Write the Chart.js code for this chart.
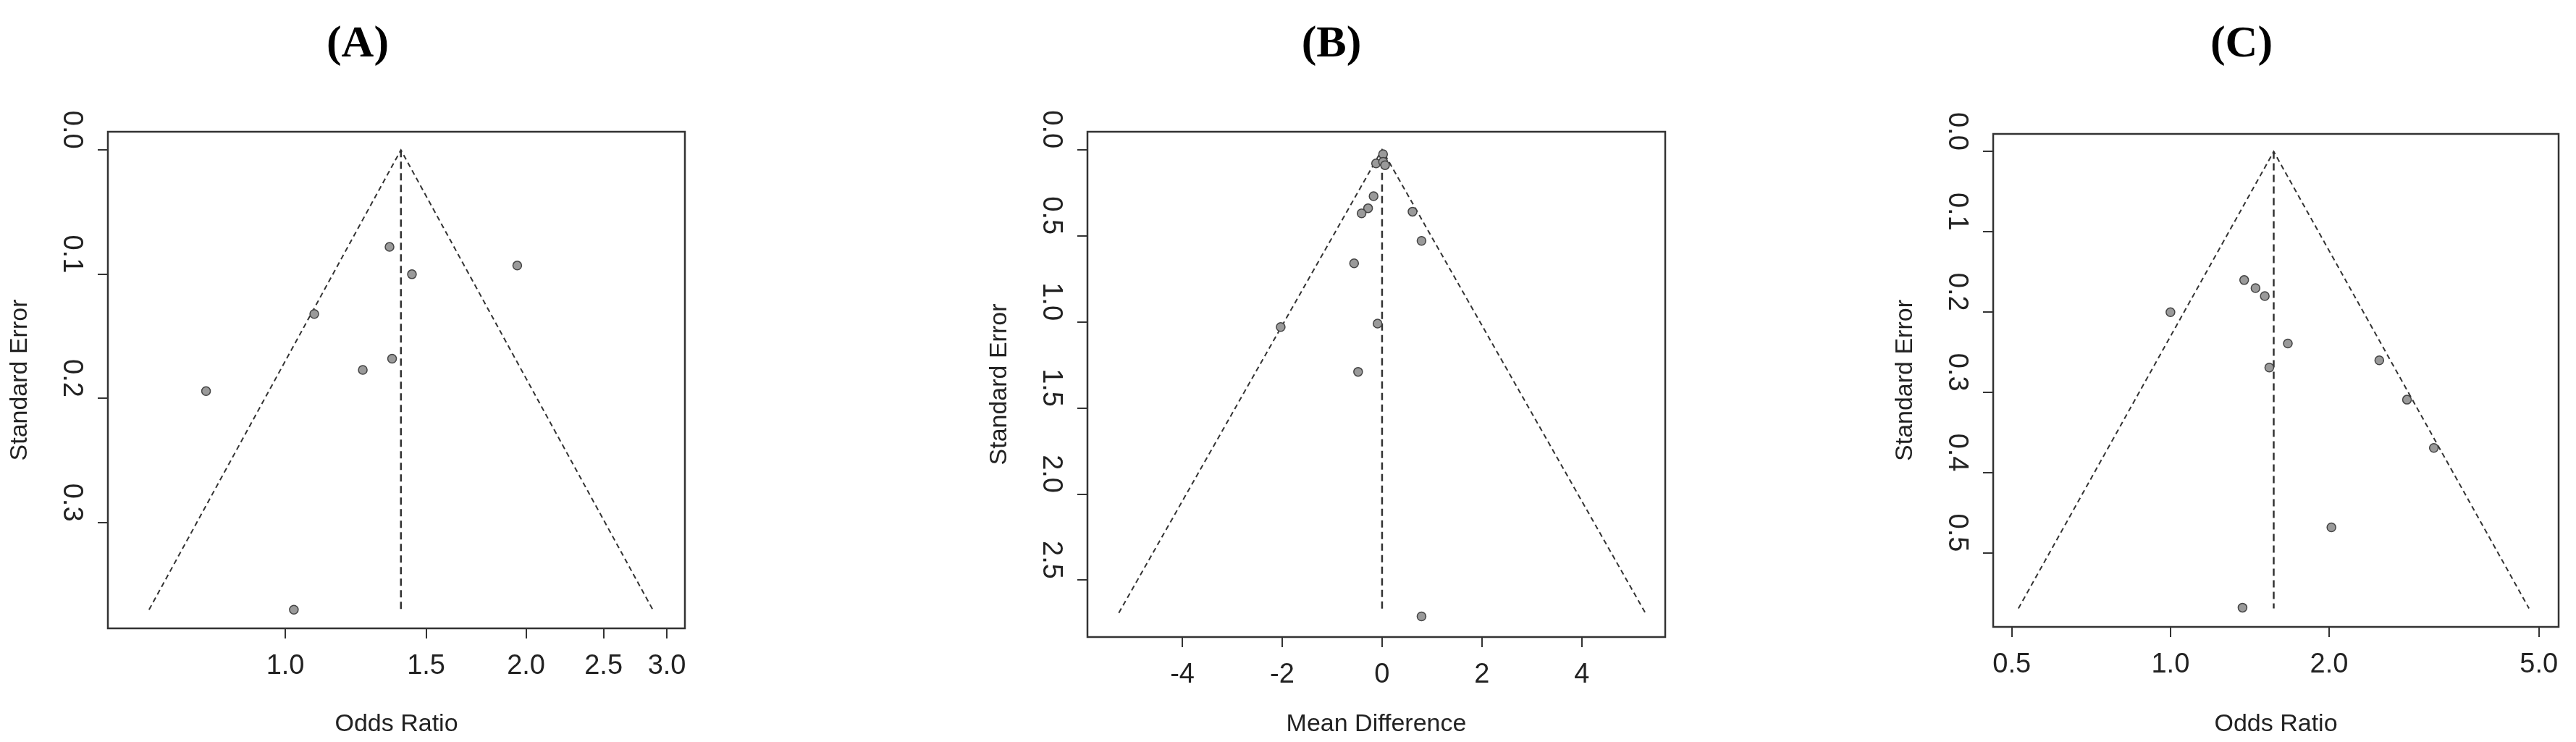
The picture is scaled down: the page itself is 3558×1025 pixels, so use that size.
<!DOCTYPE html>
<html><head><meta charset="utf-8">
<script src="https://cdn.jsdelivr.net/npm/chart.js@4/dist/chart.umd.min.js"></script>
<style>
body{margin:0;background:#fff;width:3558px;height:1025px;position:relative;overflow:hidden;font-family:"Liberation Sans",Arial,sans-serif}
.t{position:absolute;top:22px;font:bold 62px "Liberation Serif","Times New Roman",serif;color:#000;transform:translateX(-50%)}
.p{position:absolute;top:140px}
</style></head><body>
<div class="t" style="left:494px">(A)</div>
<div class="t" style="left:1839px">(B)</div>
<div class="t" style="left:3096px">(C)</div>
<div class="p" id="pa"><canvas id="ca"></canvas></div>
<div class="p" id="pb"><canvas id="cb"></canvas></div>
<div class="p" id="pc"><canvas id="cc"></canvas></div>
<script>
// Panel A (odds ratio vs standard error)
const aOR = [1.35, 1.44, 1.95, 1.087, 1.36, 1.25, 0.796, 1.025];
const aSE = [0.078, 0.100, 0.093, 0.132, 0.168, 0.177, 0.194, 0.370];
const aCenter = 1.395, aSEmax = 0.370;
const aXTicks = [1.0, 1.5, 2.0, 2.5, 3.0];
const aYTicks = [0, 0.1, 0.2, 0.3];
// Panel B (mean difference vs standard error)
const bMD = [0.02, -0.12, 0.02, 0.06, -0.17, -0.28, -0.41, 0.61, 0.79, -0.56, -2.03, -0.09, -0.48, 0.79];
const bSE = [0.026, 0.08, 0.07, 0.09, 0.27, 0.34, 0.37, 0.36, 0.53, 0.66, 1.03, 1.01, 1.29, 2.71];
const bCenter = 0, bSEmax = 2.69;
const bXTicks = [-4, -2, 0, 2, 4];
const bYTicks = [0, 0.5, 1.0, 1.5, 2.0, 2.5];
// Panel C (odds ratio vs standard error)
const cOR = [1.38, 1.45, 1.51, 1.00, 1.67, 1.54, 2.49, 2.81, 3.16, 2.02, 1.37];
const cSE = [0.160, 0.170, 0.180, 0.200, 0.239, 0.269, 0.260, 0.309, 0.369, 0.468, 0.568];
const cCenter = 1.57, cSEmax = 0.569;
const cXTicks = [0.5, 1.0, 2.0, 5.0];
const cYTicks = [0, 0.1, 0.2, 0.3, 0.4, 0.5];

const TXT = '#222';
const boxPlugin = {id:'box', afterDraw(ch){const a=ch.chartArea,c=ch.ctx;c.save();c.strokeStyle='#333';c.lineWidth=2.5;c.strokeRect(a.left,a.top,a.right-a.left,a.bottom-a.top);c.restore();}};

function funnel(center, seMax, log){
  const z = 1.96*seMax;
  if (log) return [{x:Math.exp(Math.log(center)-z),y:seMax},{x:center,y:0},{x:Math.exp(Math.log(center)+z),y:seMax}];
  return [{x:center-z,y:seMax},{x:center,y:0},{x:center+z,y:seMax}];
}

function panel(id, divId, o){
  const div = document.getElementById(divId);
  const left = o.boxL - 150, w = o.boxR - left + 30, h = 1025 - 140;
  div.style.left = left+'px'; div.style.width = w+'px'; div.style.height = h+'px';
  const pts = o.xs.map((x,i)=>({x:x,y:o.ys[i]}));
  new Chart(document.getElementById(id), {
    data:{datasets:[
      {type:'scatter',data:pts,pointRadius:6,pointBackgroundColor:'#9a9a9a',pointBorderColor:'#444',pointBorderWidth:1.5},
      {type:'line',data:funnel(o.center,o.seMax,o.log),borderColor:'#333',borderWidth:2,borderDash:[7,5],pointRadius:0,fill:false,tension:0},
      {type:'line',data:[{x:o.center,y:0},{x:o.center,y:o.seMax}],borderColor:'#333',borderWidth:2.5,borderDash:[10,6],pointRadius:0,fill:false}
    ]},
    options:{responsive:true,maintainAspectRatio:false,animation:false,
      layout:{padding:{top:o.boxT-140,right:30,left:0,bottom:0}},
      plugins:{legend:{display:false},tooltip:{enabled:false}},
      scales:{
        x:{type:o.log?'logarithmic':'linear',min:o.xmin,max:o.xmax,
          afterBuildTicks:s=>{s.ticks=o.xt.map(v=>({value:v}));},
          afterFit:s=>{s.height=1025-o.boxB;},
          grid:{display:true,drawOnChartArea:false,tickLength:14,color:'#333',lineWidth:2},
          border:{display:false},
          ticks:{font:{family:'Liberation Sans',size:38},color:TXT,padding:16,maxRotation:0,autoSkip:false,
            callback:v=>o.xdec?Number(v).toFixed(1):String(v)},
          title:{display:true,text:o.xtitle,font:{family:'Liberation Sans',size:34},color:TXT,padding:{top:0,bottom:4}}},
        y:{type:'linear',reverse:true,min:o.ymin,max:o.ymax,
          afterBuildTicks:s=>{s.ticks=o.yt.map(v=>({value:v}));},
          afterFit:s=>{s.width=150;},
          grid:{display:true,drawOnChartArea:false,tickLength:14,color:'#333',lineWidth:2},
          border:{display:false},
          ticks:{font:{family:'Liberation Sans',size:38},color:TXT,padding:10,minRotation:-90,maxRotation:-90,crossAlign:'center',autoSkip:false,labelOffset:-28,
            callback:v=>Number(v).toFixed(1)},
          title:{display:true,text:'Standard Error',font:{family:'Liberation Sans',size:34},color:TXT,padding:{top:8,bottom:0}}}
      }},
    plugins:[boxPlugin]
  });
}

panel('ca','pa',{boxL:149,boxR:946,boxT:182,boxB:868,xs:aOR,ys:aSE,center:aCenter,seMax:aSEmax,log:true,
  xmin:0.627,xmax:3.16,ymin:-0.0147,ymax:0.385,xt:aXTicks,yt:aYTicks,xdec:true,xtitle:'Odds Ratio'});
panel('cb','pb',{boxL:1502,boxR:2300,boxT:182,boxB:880,xs:bMD,ys:bSE,center:bCenter,seMax:bSEmax,log:false,
  xmin:-5.9,xmax:5.67,ymin:-0.104,ymax:2.83,xt:bXTicks,yt:bYTicks,xdec:false,xtitle:'Mean Difference'});
panel('cc','pc',{boxL:2753,boxR:3534,boxT:185,boxB:866,xs:cOR,ys:cSE,center:cCenter,seMax:cSEmax,log:true,
  xmin:0.461,xmax:5.45,ymin:-0.022,ymax:0.592,xt:cXTicks,yt:cYTicks,xdec:true,xtitle:'Odds Ratio'});
</script>
</body></html>
